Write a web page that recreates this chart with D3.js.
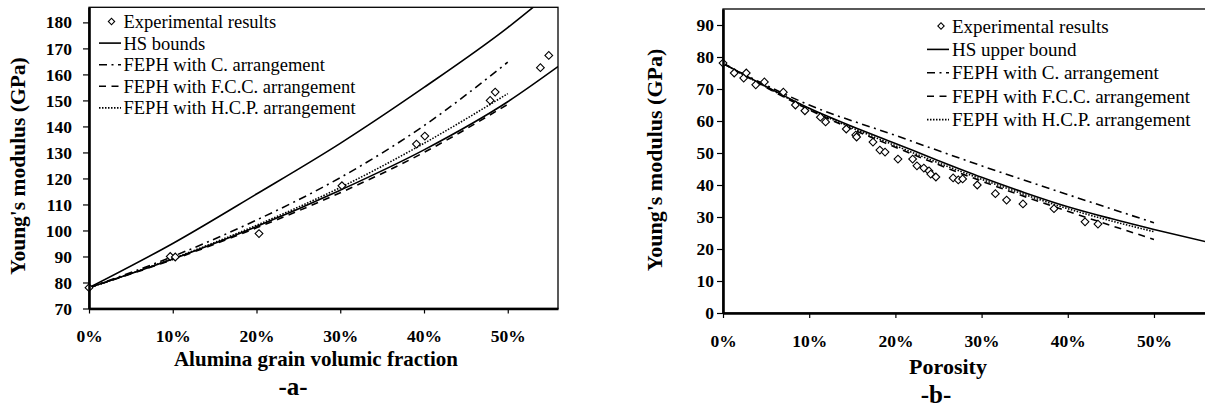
<!DOCTYPE html>
<html>
<head>
<meta charset="utf-8">
<script src="https://cdn.jsdelivr.net/npm/d3@7"></script>
<style>
  body { margin: 0; background: #fff; }
  svg { display: block; font-family: "Liberation Serif", "Times New Roman", serif; }
</style>
</head>
<body>
<svg id="chart" width="1205" height="409"></svg>
<script>
// ticks (x in %)
const xTicks = [0, 10, 20, 30, 40, 50];
const yTicksA = [70, 80, 90, 100, 110, 120, 130, 140, 150, 160, 170, 180];
const yTicksB = [0, 10, 20, 30, 40, 50, 60, 70, 80, 90];

// -a- : alumina grain volumic fraction vs Young's modulus
const expA = [[0, 78], [9.7, 90], [10.3, 89.8], [20.3, 98.8], [30.2, 117.2], [39.1, 133.2],
  [40.1, 136.3], [47.9, 150], [48.5, 153.2], [53.9, 162.6], [54.9, 167.3]];
const hsUpperA = [[0, 78], [10, 95], [20, 114], [30, 133.5], [40, 155], [50, 178], [55, 191]];
const hsLowerA = [[0, 78], [10, 89], [20, 101.5], [30, 115.5], [40, 131], [50, 149.5], [56, 163]];
const cArrA = [[0, 78], [10, 90], [20, 104], [30, 120.3], [40, 140.3], [50, 164.7]];
const fccA = [[0, 78], [10, 88.8], [20, 101], [30, 114.5], [40, 130], [50, 148.5]];
const hcpA = [[0, 78], [10, 89.2], [20, 102], [30, 116.5], [40, 133.5], [50, 152.6]];

// -b- : porosity vs Young's modulus
const expB = [[0, 78.1], [1.3, 75], [2.4, 73.4], [2.7, 75], [3.8, 71.3], [4.8, 72.2], [7, 69],
  [8.4, 65], [9.5, 63.2], [11.3, 61.2], [11.9, 59.7], [14.3, 57.5], [15.4, 55.6], [15.5, 55],
  [17.4, 53.4], [18.2, 50.9], [18.8, 50.3], [20.3, 48.1], [22, 48.1], [22.5, 46], [23.3, 45.3],
  [23.9, 44.4], [24.1, 43.4], [24.7, 42.5], [26.7, 42.2], [27.3, 41.6], [27.8, 41.9], [29.5, 40],
  [31.6, 37.3], [32.9, 35.3], [34.8, 34.1], [38.4, 32.6], [42, 28.5], [43.5, 27.8]];
const hsUpperB = [[0, 78], [5, 70.8], [10, 64], [15, 58.3], [20, 53], [25, 47.6], [30, 42.4],
  [35, 37.6], [40, 33.2], [45, 29.5], [50, 26.1], [56, 22.3]];
const cArrB = [[0, 78], [10, 65], [20, 55.5], [30, 46], [40, 37], [50, 28.2]];
const fccB = [[0, 78], [10, 63.5], [20, 51.8], [30, 41.2], [40, 31.8], [50, 23]];
const hcpB = [[0, 78], [10, 63.8], [20, 52.3], [30, 41.8], [40, 32.6], [50, 25.4]];

const legendA = ['Experimental results', 'HS bounds', 'FEPH with C. arrangement',
  'FEPH with F.C.C. arrangement', 'FEPH with H.C.P. arrangement'];
const legendB = ['Experimental results', 'HS upper bound', 'FEPH with C. arrangement',
  'FEPH with F.C.C. arrangement', 'FEPH with H.C.P. arrangement'];

const dashes = { hs: null, c: '8,4.5,2,4.5', fcc: '7,5.5', hcp: '1.5,1.5' };

const svg = d3.select('#chart');

function panel(cfg) {
  const x = d3.scaleLinear().domain([0, 56]).range([cfg.x0, cfg.x1]);
  const y = d3.scaleLinear().domain(cfg.yDom).range([cfg.y0, cfg.y1]);
  const g = svg.append('g');

  svg.append('clipPath').attr('id', 'clip-' + cfg.id)
    .append('rect')
    .attr('x', cfg.x0).attr('y', cfg.y1)
    .attr('width', cfg.x1 - cfg.x0).attr('height', cfg.y0 - cfg.y1);

  g.append('rect')
    .attr('x', cfg.x0).attr('y', cfg.y1)
    .attr('width', cfg.x1 - cfg.x0).attr('height', cfg.y0 - cfg.y1)
    .attr('fill', 'none').attr('stroke', '#000').attr('stroke-width', 1.3);

  const line = d3.line()
    .x(d => x(d[0]))
    .y(d => y(d[1]))
    .curve(d3.curveMonotoneX);

  cfg.series.forEach(s => {
    g.append('path')
      .datum(s.data)
      .attr('clip-path', `url(#clip-${cfg.id})`)
      .attr('fill', 'none')
      .attr('stroke', '#000')
      .attr('stroke-width', 1.6)
      .attr('stroke-dasharray', dashes[s.style])
      .attr('d', line);
  });

  const diamond = d3.symbol(d3.symbolSquare, 30);
  g.selectAll('.pt')
    .data(cfg.exp)
    .join('path')
    .attr('class', 'pt')
    .attr('transform', d => `translate(${x(d[0])},${y(d[1])}) rotate(45)`)
    .attr('d', diamond)
    .attr('fill', '#fff')
    .attr('stroke', '#000')
    .attr('stroke-width', 1.1);

  // axes
  const yAxis = g.append('g')
    .attr('transform', `translate(${cfg.x0},0)`)
    .call(d3.axisLeft(y).tickValues(cfg.yTicks).tickSize(6).tickPadding(cfg.yPad).tickSizeOuter(0));
  const xAxis = g.append('g')
    .attr('transform', `translate(0,${cfg.y0})`)
    .call(d3.axisBottom(x).tickValues(xTicks).tickFormat(d => d + '%')
      .tickSize(5).tickPadding(cfg.xPad).tickSizeOuter(0));
  [yAxis, xAxis].forEach(a => {
    a.attr('font-family', null).attr('font-size', 17.5).attr('font-weight', 'bold');
    a.select('.domain').attr('stroke-width', 2.6);
    a.selectAll('.tick line').attr('stroke-width', 1.2);
    a.selectAll('.tick text').attr('fill', '#000');
  });

  // legend
  const lg = g.append('g').attr('font-size', cfg.legend.size);
  cfg.legend.labels.forEach((label, i) => {
    const by = cfg.legend.y + i * cfg.legend.step;
    const cy = by - 6.5;
    if (i === 0) {
      lg.append('path')
        .attr('transform', `translate(${cfg.legend.dx},${cy}) rotate(45)`)
        .attr('d', d3.symbol(d3.symbolSquare, 20)())
        .attr('fill', '#fff').attr('stroke', '#000').attr('stroke-width', 1.1);
    } else {
      lg.append('line')
        .attr('x1', cfg.legend.lx0).attr('x2', cfg.legend.lx1)
        .attr('y1', cy).attr('y2', cy)
        .attr('stroke', '#000').attr('stroke-width', 1.6)
        .attr('stroke-dasharray', dashes[['hs', 'hs', 'c', 'fcc', 'hcp'][i]]);
    }
    lg.append('text').attr('x', cfg.legend.tx).attr('y', by).text(label);
  });

  // titles
  g.append('text')
    .attr('transform', `translate(${cfg.yt[0]},${cfg.yt[1]}) rotate(-90)`)
    .attr('text-anchor', 'middle').attr('font-weight', 'bold').attr('font-size', cfg.yt[2])
    .text("Young's modulus (GPa)");
  g.append('text')
    .attr('x', cfg.xt[0]).attr('y', cfg.xt[1])
    .attr('text-anchor', 'middle').attr('font-weight', 'bold').attr('font-size', cfg.xt[2])
    .text(cfg.xTitle);
  g.append('text')
    .attr('x', cfg.sub[0]).attr('y', cfg.sub[1])
    .attr('text-anchor', 'middle').attr('font-weight', 'bold').attr('font-size', 25)
    .text(cfg.subTitle);
}

panel({
  id: 'a', x0: 89, x1: 558, y0: 308.5, y1: 7.3, yDom: [70, 185.8],
  yTicks: yTicksA, yPad: 11, xPad: 16, exp: expA,
  series: [
    { data: hsUpperA, style: 'hs' }, { data: hsLowerA, style: 'hs' },
    { data: cArrA, style: 'c' }, { data: fccA, style: 'fcc' }, { data: hcpA, style: 'hcp' }
  ],
  legend: { labels: legendA, size: 18.5, y: 28, step: 21.6, lx0: 99, lx1: 121, dx: 111.5, tx: 123.5 },
  yt: [25, 166, 21.5], xt: [316, 365.5, 21], sub: [293, 395],
  xTitle: 'Alumina grain volumic fraction', subTitle: '-a-'
});

panel({
  id: 'b', x0: 723, x1: 1205.7, y0: 313, y1: 9, yDom: [0, 95],
  yTicks: yTicksB, yPad: 3, xPad: 17, exp: expB,
  series: [
    { data: hsUpperB, style: 'hs' }, { data: cArrB, style: 'c' },
    { data: fccB, style: 'fcc' }, { data: hcpB, style: 'hcp' }
  ],
  legend: { labels: legendB, size: 19, y: 32.5, step: 23.4, lx0: 927, lx1: 949, dx: 941, tx: 952 },
  yt: [662, 160, 22], xt: [948, 373.5, 22], sub: [936, 403],
  xTitle: 'Porosity', subTitle: '-b-'
});
</script>
</body>
</html>
